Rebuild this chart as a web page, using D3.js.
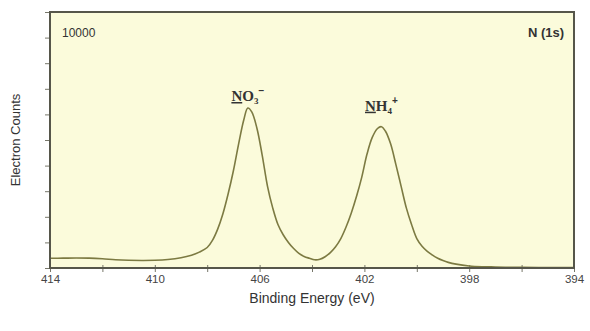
<!DOCTYPE html>
<html>
<head>
<meta charset="utf-8">
<script src="https://cdn.jsdelivr.net/npm/d3@7"></script>
<style>
  html, body { margin: 0; padding: 0; background: #ffffff; }
  svg { display: block; }
</style>
</head>
<body>
<svg id="chart" width="590" height="331"></svg>
<script>
// N 1s XPS spectrum: binding energy (eV) vs electron counts
const energies = [
  414.0, 413.5, 413.0, 412.5, 412.0, 411.5, 411.0, 410.5, 410.0, 409.5,
  409.0, 408.6, 408.3, 408.0, 407.8, 407.6, 407.4, 407.2, 407.0, 406.8,
  406.6, 406.45, 406.3, 406.1, 405.9, 405.7, 405.5, 405.3, 405.1, 404.9,
  404.7, 404.5, 404.3, 404.1, 403.9, 403.7, 403.5, 403.3, 403.1, 402.9,
  402.7, 402.5, 402.3, 402.1, 401.9, 401.7, 401.5, 401.35, 401.2, 401.0,
  400.8, 400.6, 400.4, 400.2, 400.0, 399.8, 399.6, 399.4, 399.2, 399.0,
  398.8, 398.5, 398.0, 397.5, 397.0, 396.5, 396.0, 395.0, 394.0
];
const counts = [
  380, 385, 390, 385, 360, 320, 300, 295, 300, 330,
  400, 500, 620, 800, 1080, 1520, 2120, 2900, 3800, 4850,
  5800, 6250, 6100, 5450, 4400, 3200, 2350, 1700, 1300, 1000,
  760, 570, 450, 380, 320, 340, 440, 600, 830, 1150,
  1600, 2150, 2800, 3550, 4450, 5100, 5450, 5520, 5350, 4850,
  4050, 3200, 2350, 1700, 1150, 850, 650, 500, 380, 290,
  220, 150, 80, 50, 40, 30, 25, 20, 15
];
const xTickValues = [414, 410, 406, 402, 398, 394];
const xMinorTicks = [414, 412, 410, 408, 406, 404, 402, 400, 398, 396, 394];
const yTickValues = [0, 1000, 2000, 3000, 4000, 5000, 6000, 7000, 8000, 9000, 10000];
const peakLabels = [
  { energy: 406.45, count: 6250, base: "N", rest: "O", sub: "3", sup: "−" },
  { energy: 401.35, count: 5520, base: "N", rest: "H", sub: "4", sup: "+" }
];
const scaleLabel = "10000";
const regionLabel = "N (1s)";

const svg = d3.select("#chart");
const margin = { left: 50, top: 12, right: 16, bottom: 63 };
const W = 590, H = 331;
const plotW = W - margin.left - margin.right;
const plotH = H - margin.top - margin.bottom;

const x = d3.scaleLinear().domain([414, 394]).range([margin.left, margin.left + plotW]);
const y = d3.scaleLinear().domain([0, 10000]).range([margin.top + plotH, margin.top]);

const frameColor = "#56564a";
const lineColor = "#7c7a42";
const textColor = "#333333";

// plot background
svg.append("rect")
  .attr("x", margin.left).attr("y", margin.top)
  .attr("width", plotW).attr("height", plotH)
  .attr("fill", "#fbfbdb");

// y ticks (outside, left)
svg.append("g")
  .attr("transform", `translate(${margin.left},0)`)
  .call(d3.axisLeft(y).tickValues(yTickValues).tickSize(5).tickFormat(""))
  .call(g => g.select(".domain").remove())
  .call(g => g.selectAll("line").attr("stroke", "#77776a").attr("stroke-width", 1));

// x ticks every 2 eV
svg.append("g")
  .attr("transform", `translate(0,${margin.top + plotH})`)
  .call(d3.axisBottom(x).tickValues(xMinorTicks).tickSize(4).tickFormat(""))
  .call(g => g.select(".domain").remove())
  .call(g => g.selectAll("line").attr("stroke", "#77776a").attr("stroke-width", 1).attr("y1", -3));

// x tick labels
svg.append("g")
  .attr("transform", `translate(0,${margin.top + plotH})`)
  .call(d3.axisBottom(x).tickValues(xTickValues).tickSize(0).tickPadding(7).tickFormat(d3.format("d")))
  .call(g => g.select(".domain").remove())
  .call(g => g.selectAll("text")
    .attr("font-family", "Liberation Sans, Arial, sans-serif")
    .attr("font-size", 11.5)
    .attr("fill", "#444"));

// spectrum line
const line = d3.line()
  .x((d, i) => x(energies[i]))
  .y((d, i) => y(counts[i]))
  .curve(d3.curveCatmullRom.alpha(0.5));

svg.append("path")
  .datum(counts)
  .attr("d", line)
  .attr("fill", "none")
  .attr("stroke", lineColor)
  .attr("stroke-width", 1.6);

// frame
svg.append("rect")
  .attr("x", margin.left).attr("y", margin.top)
  .attr("width", plotW).attr("height", plotH)
  .attr("fill", "none")
  .attr("stroke", frameColor)
  .attr("stroke-width", 2);

// corner annotations
svg.append("text")
  .attr("x", margin.left + 12).attr("y", margin.top + 25)
  .attr("font-family", "Liberation Sans, Arial, sans-serif")
  .attr("font-size", 12)
  .attr("fill", textColor)
  .text(scaleLabel);

svg.append("text")
  .attr("x", margin.left + plotW - 10).attr("y", margin.top + 25)
  .attr("text-anchor", "end")
  .attr("font-family", "Liberation Sans, Arial, sans-serif")
  .attr("font-size", 13)
  .attr("font-weight", "bold")
  .attr("fill", textColor)
  .text(regionLabel);

// peak labels (underlined N, subscript, superscript charge)
const labelGap = [7, 16];
peakLabels.forEach((p, i) => {
  const t = svg.append("text")
    .attr("x", x(p.energy)).attr("y", y(p.count) - labelGap[i])
    .attr("text-anchor", "middle")
    .attr("font-family", "Liberation Serif, Times New Roman, serif")
    .attr("font-size", 15)
    .attr("font-weight", "bold")
    .attr("fill", textColor);
  t.append("tspan").attr("text-decoration", "underline").text(p.base);
  t.append("tspan").text(p.rest);
  t.append("tspan").attr("font-size", 9).attr("dy", 3).text(p.sub);
  t.append("tspan")
    .attr("font-family", "Liberation Sans, Arial, sans-serif")
    .attr("font-size", 10).attr("dy", -10).text(p.sup);
});

// axis titles
svg.append("text")
  .attr("x", margin.left + plotW / 2).attr("y", H - 28)
  .attr("text-anchor", "middle")
  .attr("font-family", "Liberation Sans, Arial, sans-serif")
  .attr("font-size", 14)
  .attr("fill", textColor)
  .text("Binding Energy (eV)");

svg.append("text")
  .attr("transform", `translate(20,${margin.top + plotH / 2}) rotate(-90)`)
  .attr("text-anchor", "middle")
  .attr("font-family", "Liberation Sans, Arial, sans-serif")
  .attr("font-size", 13)
  .attr("fill", textColor)
  .text("Electron Counts");
</script>
</body>
</html>
